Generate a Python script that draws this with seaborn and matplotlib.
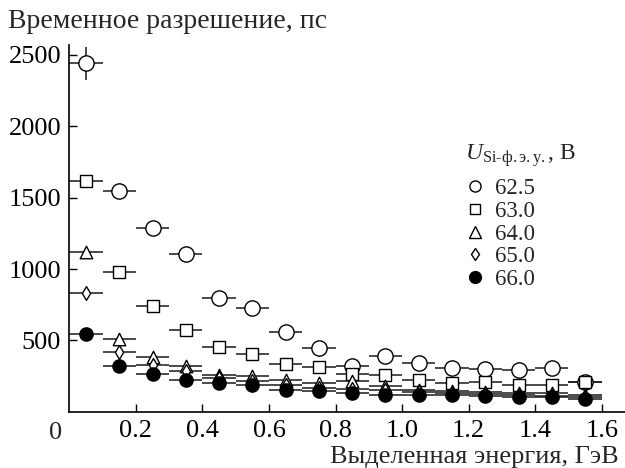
import matplotlib
matplotlib.use("Agg")
import numpy as np
import matplotlib.pyplot as plt
import seaborn as sns
from matplotlib.lines import Line2D

# energy bins (GeV), bin half-width 0.05
energy = [0.05, 0.15, 0.25, 0.35, 0.45, 0.55, 0.65, 0.75,
          0.85, 0.95, 1.05, 1.15, 1.25, 1.35, 1.45, 1.55]
energy_err = 0.05

# time resolution, ps
res_625 = [2440, 1545, 1285, 1105, 800, 730, 560, 448, 320, 390, 345, 307, 303, 290, 307, 210]
res_630 = [1620, 980, 741, 570, 453, 403, 335, 312, 262, 261, 223, 202, 209, 190, 186, 207]
res_640 = [1123, 507, 383, 319, 261, 250, 226, 200, 218, 179, 155, 145, 140, 135, 130, 120]
res_650 = [830, 420, 331, 284, 235, 215, 190, 170, 160, 150, 140, 130, 125, 118, 112, 105]
res_660 = [546, 319, 265, 226, 202, 186, 155, 148, 132, 115, 120, 115, 108, 101, 101, 92]
res_625_yerr = [115, 0, 0, 0, 0, 0, 0, 0, 0, 0, 0, 0, 0, 0, 0, 0]

voltages = ["62.5", "63.0", "64.0", "65.0", "66.0"]

xticks = [0.2, 0.4, 0.6, 0.8, 1.0, 1.2, 1.4, 1.6]
xtick_labels = ["0.2", "0.4", "0.6", "0.8", "1.0", "1.2", "1.4", "1.6"]
yticks = [500, 1000, 1500, 2000, 2500]
ytick_labels = ["500", "1000", "1500", "2000", "2500"]

sns.set_style("ticks")
plt.rcParams['font.family'] = ['Liberation Serif', 'DejaVu Serif']
plt.rcParams['mathtext.fontset'] = 'custom'
plt.rcParams['mathtext.rm'] = 'Liberation Serif'
plt.rcParams['mathtext.it'] = 'Liberation Serif:italic'

fig = plt.figure(figsize=(6.25, 4.68), dpi=100)
ax = fig.add_axes([0.111, 0.120, 0.889, 0.784])

# marker, size in plot (pt), face colour, size in legend
styles = [("o", 11.0, "white", 8.0),
          ("s", 9.0, "white", 7.5),
          ("^", 9.0, "white", 8.0),
          ("d", 7.0, "white", 6.5),
          ("o", 9.5, "black", 8.5)]
series = [res_625, res_630, res_640, res_650, res_660]

for i, (vals, (m, ms, face, _)) in enumerate(zip(series, styles)):
    yerr = res_625_yerr if i == 0 else None
    ax.errorbar(energy, vals, xerr=energy_err, yerr=yerr, fmt="none",
                ecolor="#1a1a1a", elinewidth=1.1, capsize=0, zorder=2 + i * 0.1)
    sns.scatterplot(x=energy, y=vals, marker=m, s=ms ** 2, color=face,
                    edgecolor="black", linewidth=1.0, zorder=3 + i * 0.1, ax=ax)

ax.set_xlim(0, 1.67)
ax.set_ylim(0, 2570)
ax.set_xticks(xticks, xtick_labels)
ax.set_yticks(yticks, ytick_labels)
ax.tick_params(direction="in", length=6, width=1.0, labelsize=19, pad=6,
               colors="black")
for s in ["top", "right"]:
    ax.spines[s].set_visible(False)
for s in ["left", "bottom"]:
    ax.spines[s].set_linewidth(1.2)
    ax.spines[s].set_color("black")
ax.set_xlabel("")
ax.set_ylabel("")

ax.annotate("0", xy=(0, 0), xycoords="axes fraction", xytext=(-14, -21),
            textcoords="offset pixels", ha="center", va="center", fontsize=19)

fig.text(8 / 625, 1 - 22 / 468, "Временное разрешение, пс", ha="left",
         va="center", fontsize=20)
fig.text(619 / 625, 1 - 457 / 468, "Выделенная энергия, ГэВ", ha="right",
         va="center", fontsize=19)

handles = [Line2D([], [], ls="none", marker=m, ms=lms, mfc=face, mec="black", mew=1.0)
           for (m, ms, face, lms) in styles]
leg = ax.legend(handles, voltages, title=r"$U_{\mathrm{Si‐ф.э.у.}}$, В",
                loc="upper left", bbox_to_anchor=(465 / 625, 1 - 142 / 468),
                bbox_transform=fig.transFigure, frameon=False, fontsize=16.5,
                title_fontsize=17, borderpad=0, borderaxespad=0,
                handlelength=0.9, handletextpad=0.4, labelspacing=0.08,
                alignment="left")
# more room between the legend title and the entries
leg._legend_box.sep = 6.5

fig.savefig("out.png", dpi=100)
